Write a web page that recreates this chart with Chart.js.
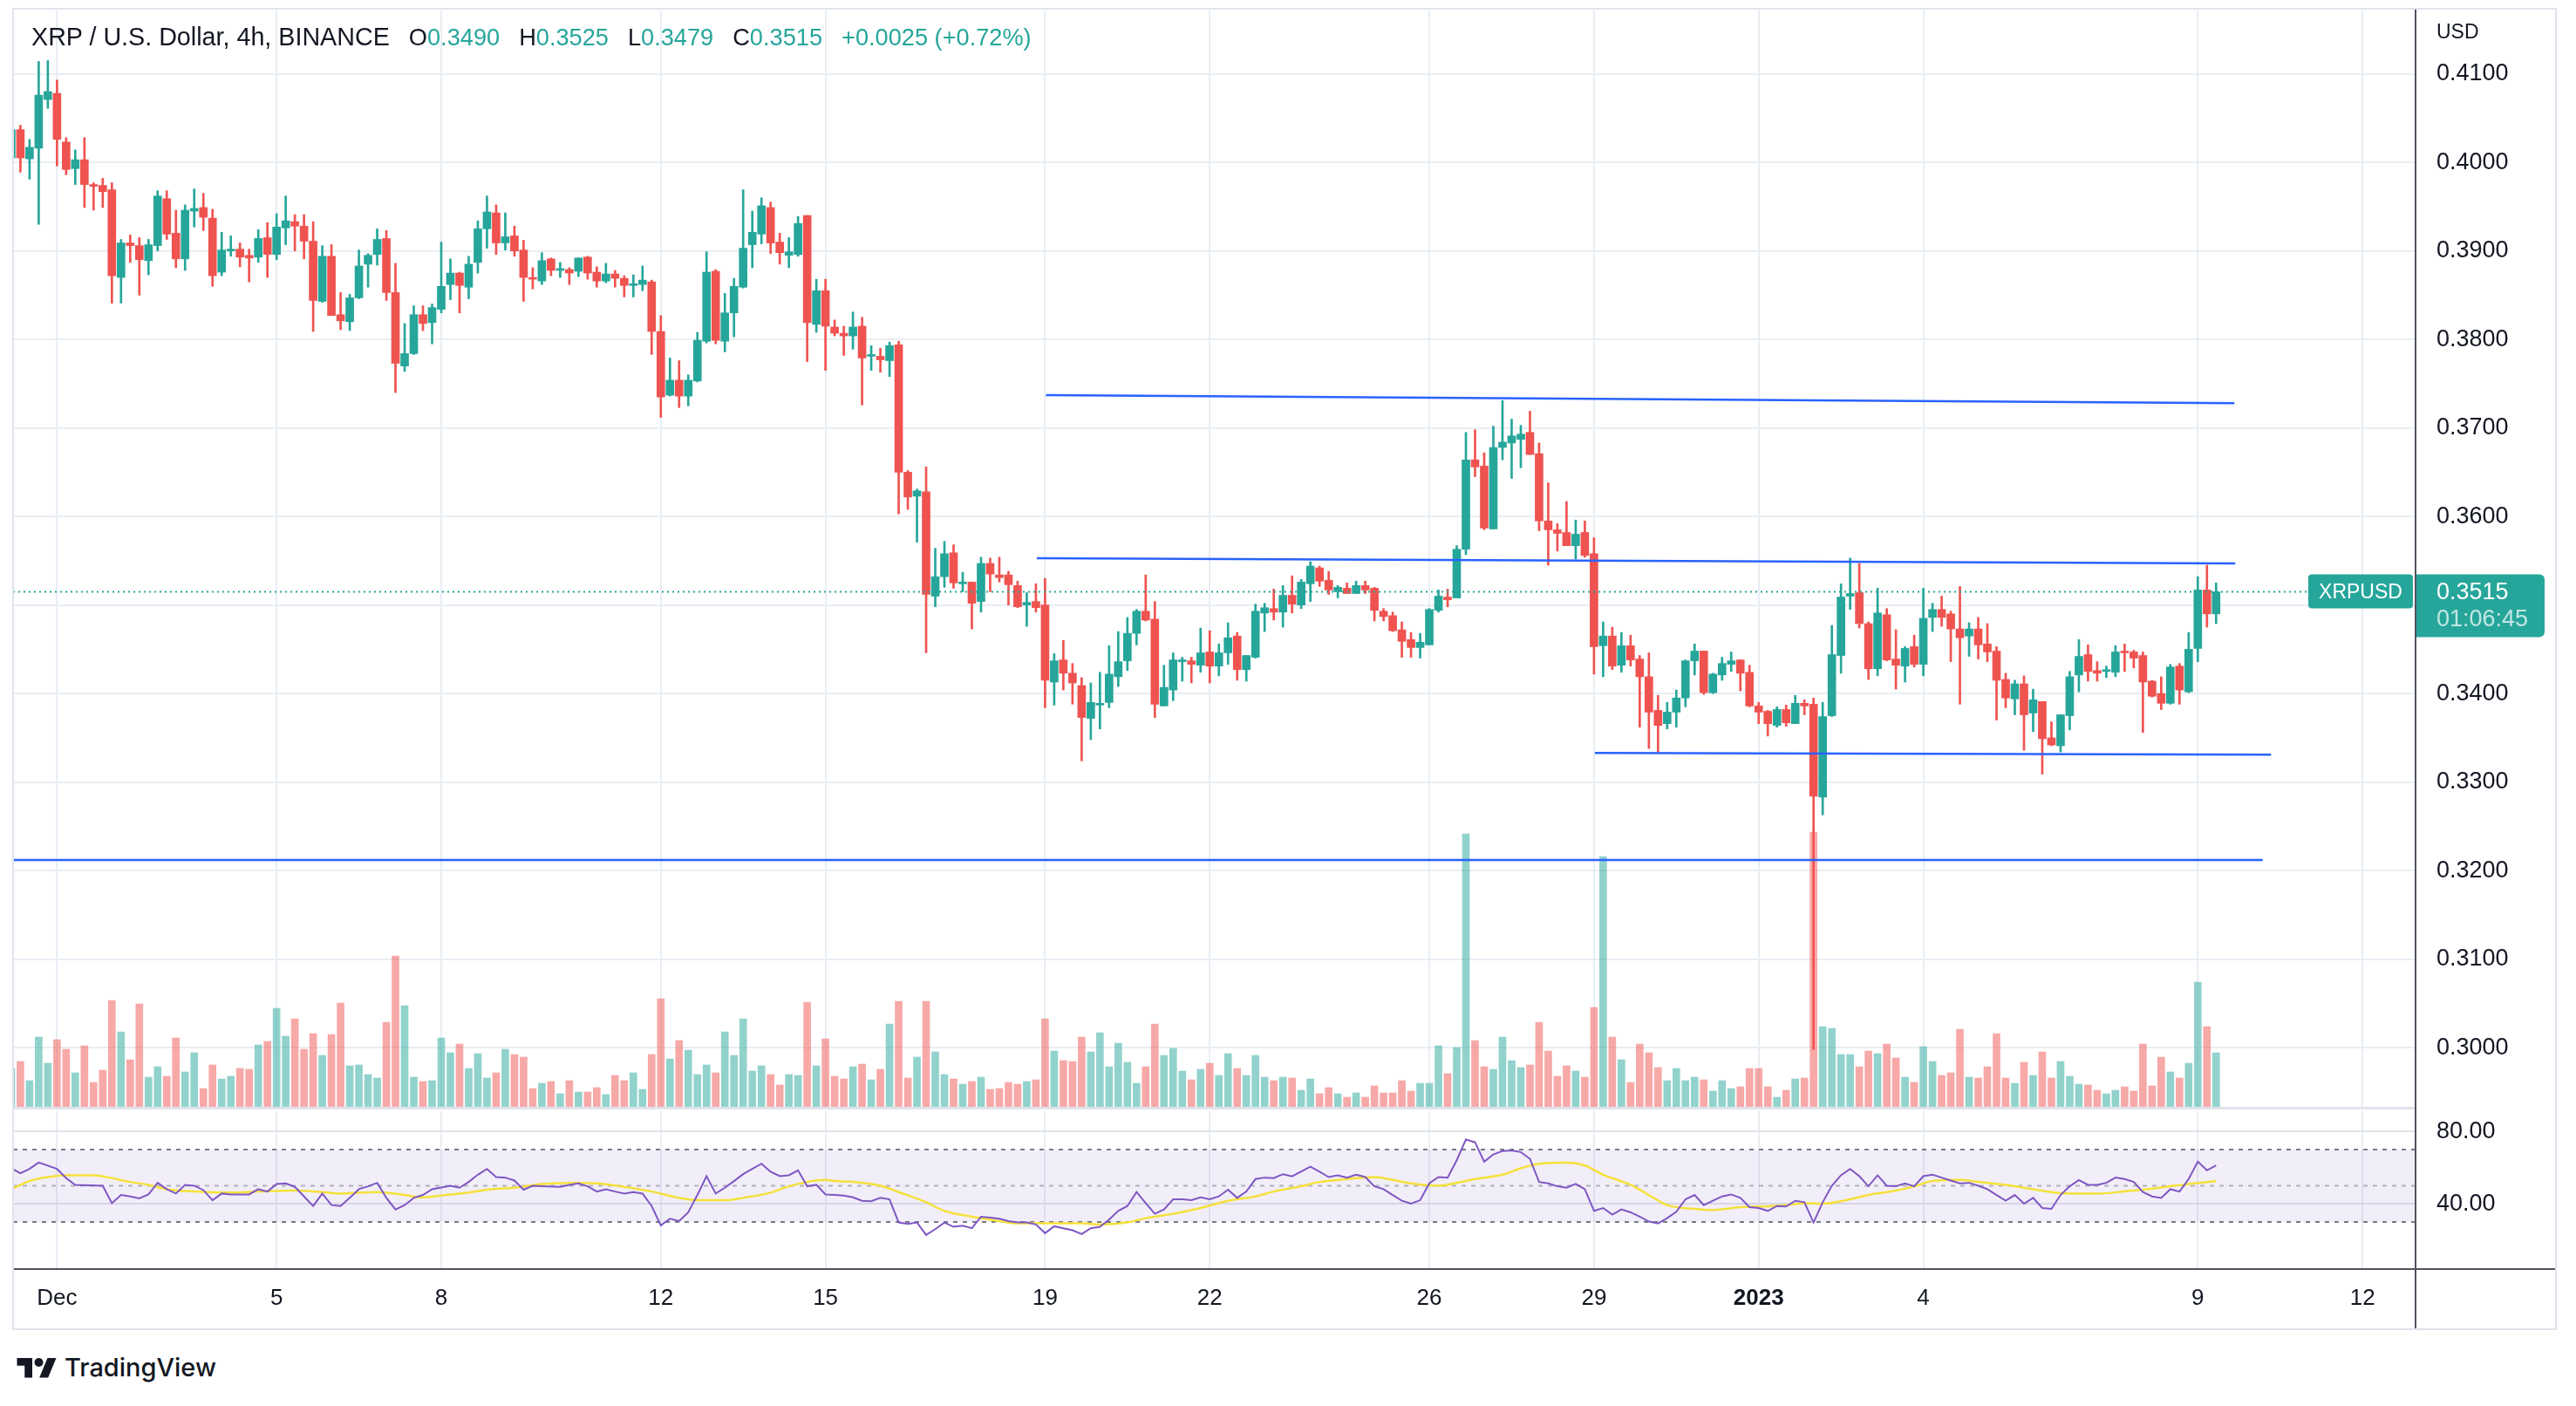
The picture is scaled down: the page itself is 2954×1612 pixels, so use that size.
<!DOCTYPE html>
<html lang="es">
<head>
<meta charset="utf-8">
<title>XRP / U.S. Dollar, 4h, BINANCE</title>
<script src="https://cdn.jsdelivr.net/npm/chart.js@4.4.1/dist/chart.umd.min.js"></script>
<style>
	html, body { margin: 0; padding: 0; background: #ffffff; }
	#lienzo { position: relative; width: 2954px; height: 1612px; overflow: hidden; font-family: "Liberation Sans", Arial, sans-serif; color: #131722; }
	#graficoPrecio { position: absolute; left: 0; top: 0; }
	#graficoRsi { position: absolute; left: 0; top: 1270px; }
	.marco { position: absolute; left: 14px; top: 9px; width: 2914px; height: 1512px; border: 2px solid #e0e3eb; pointer-events: none; }
	.ejeV { position: absolute; left: 2769px; top: 10px; width: 2px; height: 1513px; background: #50535e; }
	.ejeH { position: absolute; left: 15px; top: 1454px; width: 2915px; height: 2px; background: #50535e; }
	.sep { position: absolute; left: 15px; top: 1269px; width: 2754px; height: 3px; background: #e0e3eb; }
	#leyenda { position: absolute; left: 36px; top: 28px; font-size: 27.2px; line-height: 28px; white-space: nowrap; color: #131722; }
	#leyenda .t { font-size: 28.7px; }
	#leyenda .v { color: #26a69a; }
	#leyenda .k { margin-left: 22px; }
	.usd { position: absolute; left: 2794px; top: 24px; font-size: 23px; line-height: 24px; color: #131722; }
	.logo { position: absolute; left: 19px; top: 1550px; height: 34px; display: flex; align-items: center; gap: 9px; font-family: Inter, "Liberation Sans", sans-serif; font-size: 29px; font-weight: 500; color: #131722; }
</style>
</head>
<body>
<div id="lienzo">
	<canvas id="graficoPrecio" width="2954" height="1272"></canvas>
	<canvas id="graficoRsi" width="2954" height="254"></canvas>
	<div class="sep"></div>
	<div class="ejeH"></div>
	<div class="ejeV"></div>
	<div class="marco"></div>
	<div id="leyenda"></div>
	<div class="usd">USD</div>
	<div class="logo">
		<svg width="46" height="30" viewBox="0 0 36 24"><path fill="#131722" d="M14 22H7V11H0V4h14v18zM28.5 22h-8l7.5-18h8L28.5 22z"/><circle fill="#131722" cx="20" cy="8" r="4"/></svg>
		<span>TradingView</span>
	</div>
</div>
<script>
// Velas de 4h: el índice 0 es el 1 de diciembre 00:00, cada unidad es una vela
const firstIdx = -5;

const opens = [
	0.4005, 0.4037, 0.4004, 0.4016, 0.4071, 0.4078, 0.4023, 0.3993, 0.4003, 0.3974,
	0.3974, 0.3969, 0.3870, 0.3909, 0.3906, 0.3889, 0.3906, 0.3959, 0.3920, 0.3891,
	0.3945, 0.3949, 0.3937, 0.3876, 0.3900, 0.3902, 0.3895, 0.3893, 0.3915, 0.3896,
	0.3926, 0.3933, 0.3928, 0.3911, 0.3843, 0.3894, 0.3828, 0.3820, 0.3847, 0.3885,
	0.3896, 0.3914, 0.3853, 0.3770, 0.3784, 0.3828, 0.3819, 0.3834, 0.3862, 0.3875,
	0.3859, 0.3887, 0.3925, 0.3943, 0.3909, 0.3917, 0.3901, 0.3870, 0.3866, 0.3891,
	0.3878, 0.3879, 0.3877, 0.3893, 0.3876, 0.3866, 0.3874, 0.3869, 0.3861, 0.3862,
	0.3865, 0.3809, 0.3737, 0.3754, 0.3736, 0.3753, 0.3798, 0.3877, 0.3798, 0.3830,
	0.3859, 0.3907, 0.3919, 0.3949, 0.3910, 0.3895, 0.3896, 0.3940, 0.3817, 0.3855,
	0.3814, 0.3807, 0.3804, 0.3815, 0.3781, 0.3781, 0.3776, 0.3794, 0.3650, 0.3623,
	0.3628, 0.3510, 0.3532, 0.3559, 0.3524, 0.3526, 0.3504, 0.3547, 0.3534, 0.3534,
	0.3522, 0.3500, 0.3504, 0.3500, 0.3413, 0.3438, 0.3423, 0.3409, 0.3372, 0.3387,
	0.3390, 0.3419, 0.3437, 0.3468, 0.3493, 0.3484, 0.3386, 0.3404, 0.3436, 0.3437,
	0.3432, 0.3447, 0.3431, 0.3446, 0.3465, 0.3427, 0.3441, 0.3491, 0.3496, 0.3492,
	0.3511, 0.3500, 0.3524, 0.3542, 0.3528, 0.3515, 0.3519, 0.3513, 0.3522, 0.3519,
	0.3493, 0.3488, 0.3472, 0.3461, 0.3452, 0.3455, 0.3494, 0.3509, 0.3508, 0.3563,
	0.3664, 0.3657, 0.3586, 0.3678, 0.3683, 0.3687, 0.3695, 0.3671, 0.3595, 0.3585,
	0.3582, 0.3567, 0.3582, 0.3558, 0.3454, 0.3465, 0.3432, 0.3454, 0.3439, 0.3419,
	0.3381, 0.3366, 0.3379, 0.3395, 0.3437, 0.3448, 0.3401, 0.3421, 0.3433, 0.3438,
	0.3424, 0.3386, 0.3380, 0.3364, 0.3382, 0.3366, 0.3389, 0.3388, 0.3283, 0.3375,
	0.3443, 0.3510, 0.3514, 0.3479, 0.3428, 0.3489, 0.3439, 0.3431, 0.3453, 0.3433,
	0.3486, 0.3495, 0.3490, 0.3473, 0.3465, 0.3473, 0.3456, 0.3448, 0.3416, 0.3394,
	0.3411, 0.3378, 0.3391, 0.3350, 0.3341, 0.3375, 0.3421, 0.3444, 0.3426, 0.3425,
	0.3424, 0.3447, 0.3447, 0.3443, 0.3414, 0.3400, 0.3389, 0.3431, 0.3402, 0.3451,
	0.3517, 0.3490
];
const highs = [
	0.4045, 0.4042, 0.4026, 0.4114, 0.4115, 0.4093, 0.4028, 0.4014, 0.4028, 0.3977,
	0.3982, 0.3977, 0.3913, 0.3918, 0.3915, 0.3913, 0.3968, 0.3968, 0.3946, 0.3952,
	0.3970, 0.3965, 0.3947, 0.3921, 0.3917, 0.3909, 0.3902, 0.3924, 0.3932, 0.3942,
	0.3962, 0.3941, 0.3941, 0.3933, 0.3906, 0.3907, 0.3853, 0.3851, 0.3901, 0.3897,
	0.3925, 0.3923, 0.3886, 0.3818, 0.3838, 0.3838, 0.3840, 0.3910, 0.3891, 0.3876,
	0.3894, 0.3934, 0.3962, 0.3952, 0.3943, 0.3928, 0.3912, 0.3881, 0.3898, 0.3892,
	0.3887, 0.3881, 0.3892, 0.3894, 0.3882, 0.3886, 0.3878, 0.3872, 0.3873, 0.3883,
	0.3867, 0.3827, 0.3779, 0.3776, 0.3760, 0.3808, 0.3899, 0.3879, 0.3852, 0.3869,
	0.3969, 0.3945, 0.3960, 0.3955, 0.3920, 0.3915, 0.3939, 0.3940, 0.3868, 0.3868,
	0.3822, 0.3815, 0.3831, 0.3825, 0.3793, 0.3790, 0.3797, 0.3798, 0.3652, 0.3631,
	0.3656, 0.3564, 0.3572, 0.3568, 0.3537, 0.3526, 0.3554, 0.3553, 0.3554, 0.3538,
	0.3527, 0.3514, 0.3524, 0.3530, 0.3445, 0.3460, 0.3434, 0.3418, 0.3412, 0.3424,
	0.3454, 0.3470, 0.3486, 0.3495, 0.3534, 0.3504, 0.3432, 0.3446, 0.3441, 0.3441,
	0.3474, 0.3471, 0.3456, 0.3480, 0.3469, 0.3443, 0.3501, 0.3502, 0.3518, 0.3522,
	0.3533, 0.3529, 0.3549, 0.3544, 0.3538, 0.3522, 0.3525, 0.3527, 0.3527, 0.3520,
	0.3496, 0.3492, 0.3481, 0.3469, 0.3468, 0.3496, 0.3517, 0.3518, 0.3567, 0.3695,
	0.3698, 0.3672, 0.3702, 0.3731, 0.3710, 0.3703, 0.3719, 0.3683, 0.3638, 0.3592,
	0.3617, 0.3596, 0.3595, 0.3576, 0.3481, 0.3475, 0.3469, 0.3466, 0.3443, 0.3446,
	0.3398, 0.3390, 0.3404, 0.3438, 0.3456, 0.3448, 0.3423, 0.3441, 0.3447, 0.3438,
	0.3432, 0.3390, 0.3381, 0.3385, 0.3387, 0.3398, 0.3393, 0.3395, 0.3390, 0.3477,
	0.3524, 0.3553, 0.3547, 0.3481, 0.3519, 0.3496, 0.3472, 0.3453, 0.3466, 0.3519,
	0.3502, 0.3510, 0.3493, 0.3521, 0.3480, 0.3486, 0.3479, 0.3453, 0.3423, 0.3415,
	0.3420, 0.3405, 0.3391, 0.3368, 0.3376, 0.3425, 0.3461, 0.3455, 0.3436, 0.3431,
	0.3454, 0.3456, 0.3449, 0.3447, 0.3415, 0.3419, 0.3433, 0.3434, 0.3469, 0.3532,
	0.3545, 0.3525
];
const lows = [
	0.3998, 0.3989, 0.3981, 0.3930, 0.4061, 0.3996, 0.3986, 0.3975, 0.3949, 0.3946,
	0.3949, 0.3841, 0.3841, 0.3887, 0.3850, 0.3873, 0.3900, 0.3913, 0.3881, 0.3878,
	0.3927, 0.3923, 0.3860, 0.3872, 0.3894, 0.3882, 0.3865, 0.3887, 0.3870, 0.3890,
	0.3907, 0.3900, 0.3891, 0.3809, 0.3842, 0.3827, 0.3811, 0.3810, 0.3846, 0.3859,
	0.3884, 0.3844, 0.3740, 0.3764, 0.3783, 0.3810, 0.3795, 0.3830, 0.3845, 0.3830,
	0.3846, 0.3875, 0.3903, 0.3896, 0.3901, 0.3894, 0.3843, 0.3857, 0.3862, 0.3872,
	0.3870, 0.3862, 0.3871, 0.3868, 0.3859, 0.3864, 0.3859, 0.3848, 0.3848, 0.3855,
	0.3783, 0.3712, 0.3736, 0.3723, 0.3725, 0.3752, 0.3796, 0.3795, 0.3786, 0.3803,
	0.3858, 0.3881, 0.3908, 0.3897, 0.3885, 0.3881, 0.3894, 0.3775, 0.3808, 0.3765,
	0.3804, 0.3782, 0.3789, 0.3726, 0.3765, 0.3763, 0.3758, 0.3603, 0.3608, 0.3571,
	0.3446, 0.3498, 0.3520, 0.3519, 0.3515, 0.3473, 0.3492, 0.3515, 0.3526, 0.3500,
	0.3497, 0.3476, 0.3492, 0.3384, 0.3387, 0.3404, 0.3388, 0.3324, 0.3348, 0.3360,
	0.3384, 0.3408, 0.3426, 0.3455, 0.3482, 0.3373, 0.3386, 0.3392, 0.3414, 0.3412,
	0.3424, 0.3412, 0.3420, 0.3433, 0.3415, 0.3414, 0.3440, 0.3470, 0.3483, 0.3475,
	0.3491, 0.3496, 0.3504, 0.3521, 0.3512, 0.3508, 0.3513, 0.3513, 0.3513, 0.3482,
	0.3482, 0.3470, 0.3441, 0.3441, 0.3440, 0.3455, 0.3492, 0.3498, 0.3508, 0.3557,
	0.3645, 0.3585, 0.3586, 0.3664, 0.3643, 0.3655, 0.3670, 0.3584, 0.3545, 0.3561,
	0.3567, 0.3552, 0.3554, 0.3422, 0.3419, 0.3427, 0.3424, 0.3431, 0.3362, 0.3338,
	0.3334, 0.3360, 0.3362, 0.3385, 0.3421, 0.3399, 0.3400, 0.3415, 0.3425, 0.3403,
	0.3385, 0.3366, 0.3352, 0.3362, 0.3363, 0.3366, 0.3376, 0.2998, 0.3263, 0.3374,
	0.3423, 0.3495, 0.3474, 0.3416, 0.3420, 0.3437, 0.3405, 0.3413, 0.3430, 0.3420,
	0.3470, 0.3476, 0.3436, 0.3388, 0.3442, 0.3439, 0.3436, 0.3370, 0.3384, 0.3376,
	0.3336, 0.3357, 0.3309, 0.3341, 0.3334, 0.3359, 0.3402, 0.3414, 0.3414, 0.3418,
	0.3419, 0.3425, 0.3429, 0.3356, 0.3396, 0.3382, 0.3388, 0.3388, 0.3401, 0.3436,
	0.3475, 0.3479
];
const closes = [
	0.4037, 0.4005, 0.4017, 0.4076, 0.4080, 0.4026, 0.3992, 0.4003, 0.3975, 0.3973,
	0.3967, 0.3872, 0.3909, 0.3906, 0.3890, 0.3907, 0.3962, 0.3919, 0.3891, 0.3946,
	0.3948, 0.3938, 0.3872, 0.3901, 0.3902, 0.3893, 0.3892, 0.3914, 0.3896, 0.3927,
	0.3934, 0.3928, 0.3911, 0.3844, 0.3894, 0.3827, 0.3821, 0.3847, 0.3883, 0.3895,
	0.3913, 0.3853, 0.3773, 0.3784, 0.3828, 0.3818, 0.3836, 0.3860, 0.3875, 0.3861,
	0.3885, 0.3925, 0.3944, 0.3909, 0.3916, 0.3900, 0.3870, 0.3868, 0.3889, 0.3878,
	0.3880, 0.3875, 0.3892, 0.3875, 0.3866, 0.3874, 0.3869, 0.3861, 0.3863, 0.3867,
	0.3809, 0.3735, 0.3754, 0.3736, 0.3754, 0.3799, 0.3876, 0.3799, 0.3830, 0.3860,
	0.3903, 0.3921, 0.3951, 0.3909, 0.3898, 0.3899, 0.3931, 0.3819, 0.3855, 0.3815,
	0.3807, 0.3804, 0.3814, 0.3779, 0.3783, 0.3777, 0.3793, 0.3650, 0.3622, 0.3629,
	0.3512, 0.3532, 0.3558, 0.3525, 0.3526, 0.3502, 0.3547, 0.3535, 0.3531, 0.3523,
	0.3498, 0.3503, 0.3497, 0.3415, 0.3437, 0.3423, 0.3412, 0.3373, 0.3390, 0.3389,
	0.3422, 0.3436, 0.3468, 0.3493, 0.3483, 0.3388, 0.3407, 0.3438, 0.3438, 0.3433,
	0.3446, 0.3431, 0.3446, 0.3463, 0.3427, 0.3443, 0.3493, 0.3497, 0.3492, 0.3511,
	0.3501, 0.3526, 0.3544, 0.3527, 0.3517, 0.3520, 0.3513, 0.3522, 0.3517, 0.3494,
	0.3487, 0.3471, 0.3459, 0.3452, 0.3458, 0.3495, 0.3510, 0.3506, 0.3563, 0.3664,
	0.3656, 0.3587, 0.3678, 0.3684, 0.3691, 0.3693, 0.3670, 0.3595, 0.3585, 0.3581,
	0.3567, 0.3580, 0.3556, 0.3453, 0.3465, 0.3431, 0.3454, 0.3438, 0.3419, 0.3379,
	0.3364, 0.3379, 0.3395, 0.3437, 0.3448, 0.3401, 0.3422, 0.3434, 0.3437, 0.3423,
	0.3386, 0.3379, 0.3366, 0.3382, 0.3367, 0.3389, 0.3386, 0.3284, 0.3374, 0.3444,
	0.3509, 0.3513, 0.3479, 0.3428, 0.3491, 0.3438, 0.3432, 0.3451, 0.3433, 0.3485,
	0.3495, 0.3486, 0.3473, 0.3463, 0.3473, 0.3455, 0.3447, 0.3415, 0.3395, 0.3411,
	0.3376, 0.3393, 0.3349, 0.3342, 0.3376, 0.3419, 0.3442, 0.3425, 0.3423, 0.3427,
	0.3447, 0.3446, 0.3440, 0.3413, 0.3397, 0.3389, 0.3430, 0.3404, 0.3450, 0.3517,
	0.3490, 0.3515
];
// Volumen relativo de cada vela (millones)
const volumes = [
	45, 53, 31, 81, 51, 78, 67, 40, 71, 29,
	43, 123, 87, 55, 119, 35, 47, 36, 80, 41,
	63, 22, 49, 33, 36, 45, 44, 72, 76, 114,
	82, 102, 67, 85, 60, 84, 120, 48, 49, 38,
	34, 98, 174, 117, 35, 30, 31, 80, 63, 73,
	45, 62, 34, 40, 67, 61, 58, 22, 28, 30,
	16, 31, 18, 18, 23, 15, 37, 31, 40, 21,
	61, 125, 56, 77, 66, 38, 49, 40, 87, 60,
	102, 42, 48, 38, 26, 38, 37, 121, 48, 79,
	36, 33, 47, 50, 32, 44, 96, 122, 34, 58,
	122, 64, 38, 33, 27, 30, 35, 21, 22, 29,
	27, 30, 32, 102, 65, 54, 53, 81, 64, 86,
	47, 74, 52, 28, 47, 96, 60, 68, 42, 32,
	44, 51, 37, 62, 45, 37, 60, 35, 31, 35,
	34, 20, 33, 16, 23, 16, 12, 17, 12, 25,
	17, 17, 31, 19, 28, 28, 71, 39, 69, 314,
	77, 47, 44, 81, 54, 46, 49, 98, 65, 36,
	48, 42, 35, 115, 288, 81, 55, 29, 73, 63,
	46, 31, 45, 31, 35, 32, 19, 31, 22, 24,
	45, 45, 24, 12, 20, 33, 34, 316, 93, 91,
	61, 61, 47, 65, 62, 73, 57, 35, 29, 70,
	53, 37, 40, 90, 35, 34, 47, 85, 34, 28,
	52, 37, 64, 34, 53, 36, 27, 26, 20, 16,
	20, 24, 19, 73, 25, 58, 41, 34, 51, 144,
	93, 63
];

const rsiIdx = [
	-5, -4, -3, -2, 0, 1, 2, 5, 6, 7, 8, 9, 10, 11, 12, 13, 14, 15, 16, 17, 18, 19, 21, 22, 23, 24, 25, 26, 28, 29,
	30, 31, 32, 33, 34, 35, 36, 37, 38, 39, 40, 41, 43, 44, 45, 46, 47, 48, 49, 50, 51, 52, 53, 55, 56, 57, 58, 59, 60, 61,
	62, 63, 64, 65, 66, 67, 68, 69, 70, 71, 72, 73, 74, 75, 76, 77, 78, 79, 80, 81, 82, 83, 84, 85, 86, 87, 88, 89, 90, 91,
	92, 93, 94, 95, 96, 97, 98, 99, 100, 101, 102, 103, 104, 105, 106, 107, 108, 109, 110, 111, 112, 113, 114, 115, 116, 117, 118, 119, 120, 121,
	122, 123, 124, 125, 126, 127, 128, 129, 130, 131, 132, 133, 134, 135, 137, 138, 139, 140, 141, 142, 143, 144, 145, 146, 147, 148, 149, 150, 151, 152,
	153, 154, 155, 156, 157, 158, 159, 160, 161, 162, 163, 164, 165, 166, 167, 168, 169, 170, 171, 172, 173, 174, 175, 176, 177, 178, 179, 180, 181, 182,
	183, 184, 185, 186, 187, 188, 189, 190, 191, 192, 193, 194, 195, 196, 197, 198, 199, 200, 201, 202, 203, 204, 205, 206, 207, 208, 209, 210, 211, 212,
	213, 214, 215, 216, 217, 218, 219, 220, 221, 222, 223, 224, 225, 226, 227, 228, 229, 230, 231, 232, 233, 234, 235, 236
];
const rsiVal = [
	59.6, 56.9, 59.3, 62.8, 59.3, 54.2, 50.5, 50.0, 40.4, 44.9, 44.1, 43.0, 45.2, 51.6, 48.1, 45.7, 50.5, 50.0, 47.6, 42.0, 45.7, 45.2, 45.2, 48.1, 46.8, 51.0, 51.3, 49.4, 38.8, 45.7,
	39.3, 38.8, 43.3, 48.1, 49.7, 51.6, 43.3, 36.9, 39.3, 43.3, 44.9, 48.1, 50.0, 48.9, 52.1, 56.1, 59.3, 54.8, 54.5, 52.9, 47.8, 50.0, 49.7, 49.4, 50.5, 51.3, 49.7, 46.8, 48.1, 46.8,
	45.7, 46.5, 45.7, 38.8, 28.1, 31.8, 30.5, 35.3, 44.9, 55.3, 45.7, 48.9, 52.6, 56.4, 59.3, 62.2, 57.7, 55.3, 55.8, 58.5, 49.7, 50.5, 45.2, 44.9, 44.6, 43.6, 41.7, 41.4, 43.3, 42.5,
	29.7, 28.9, 29.7, 22.8, 26.0, 29.7, 27.3, 27.9, 26.5, 32.9, 32.4, 31.8, 30.5, 29.7, 29.7, 28.6, 23.8, 27.6, 26.5, 25.4, 23.3, 26.5, 27.3, 31.3, 36.1, 38.8, 46.5, 40.4, 34.5, 36.9,
	42.5, 42.5, 42.0, 43.6, 42.5, 44.1, 47.8, 43.3, 46.8, 53.7, 54.5, 54.2, 56.4, 55.2, 60.5, 57.7, 54.8, 55.8, 54.5, 56.1, 54.8, 49.7, 48.1, 44.9, 41.7, 40.1, 42.0, 51.3, 54.8, 54.5,
	64.1, 75.6, 74.0, 63.3, 67.3, 69.2, 69.5, 68.6, 64.9, 52.1, 51.3, 49.7, 48.9, 51.0, 48.1, 36.1, 37.7, 34.0, 36.9, 35.3, 32.9, 30.2, 29.2, 32.1, 35.6, 42.5, 44.9, 39.3, 41.7, 44.1,
	45.2, 43.3, 38.2, 37.7, 36.1, 38.8, 38.5, 41.7, 40.9, 29.7, 40.9, 50.0, 55.8, 59.3, 55.3, 49.7, 55.8, 50.0, 49.7, 51.3, 49.7, 55.3, 56.1, 54.5, 52.9, 51.3, 51.6, 50.0, 48.1, 44.9,
	41.7, 44.9, 40.1, 43.3, 37.7, 37.2, 44.9, 49.7, 53.2, 50.5, 50.5, 51.6, 54.5, 53.7, 52.1, 46.5, 44.1, 43.3, 48.1, 46.8, 53.7, 63.3, 58.5, 61.2
];
// Media del RSI (línea amarilla)
const maIdx = [
	-5, -3, -1, 1, 4, 6, 8, 10, 12, 15, 19, 22, 26, 29, 31, 35, 38, 40, 42, 45, 47, 50, 53, 57, 59, 62, 65, 68, 70, 73,
	75, 78, 80, 82, 84, 85, 87, 90, 92, 95, 97, 100, 103, 105, 109, 112, 114, 117, 119, 122, 125, 128, 131, 133, 136, 138, 141, 144, 146, 148,
	151, 153, 155, 158, 160, 162, 165, 167, 169, 172, 174, 176, 179, 181, 184, 186, 189, 191, 193, 196, 198, 201, 203, 205, 208, 210, 213, 215, 218, 220,
	223, 226, 228, 231, 233, 236
];
const maVal = [
	48.1, 52.6, 54.8, 55.8, 55.8, 54.2, 52.1, 50.5, 48.1, 46.8, 46.2, 46.8, 47.3, 46.5, 45.7, 46.5, 44.9, 43.6, 44.6, 46.2, 47.8, 48.9, 51.0, 51.6, 51.3, 49.4, 46.8, 43.3, 42.0, 42.0,
	43.3, 46.2, 49.7, 52.1, 53.2, 52.6, 52.1, 50.0, 46.5, 40.9, 36.1, 32.9, 30.5, 29.2, 29.2, 29.2, 28.6, 29.7, 32.1, 34.5, 37.7, 41.7, 44.1, 46.8, 49.7, 52.1, 53.7, 54.8, 53.2, 51.3,
	50.0, 51.6, 53.7, 56.1, 59.6, 62.2, 62.8, 61.2, 56.1, 50.5, 44.9, 39.3, 37.2, 36.6, 38.2, 38.5, 39.3, 40.4, 40.1, 42.5, 44.9, 47.3, 49.7, 52.6, 53.2, 52.1, 50.5, 48.9, 46.5, 45.7,
	45.7, 46.8, 47.8, 49.7, 51.0, 52.6
];

// Líneas dibujadas a mano (soportes y resistencias)
const trendStartIdx = [108.1, 107.1, 168.1, -4.8];
const trendEndIdx = [238.0, 238.1, 242.0, 241.1];
const trendStartPrice = [0.3737, 0.3553, 0.3333, 0.3212];
const trendEndPrice = [0.3728, 0.3547, 0.3331, 0.3212];

// Eje de tiempo
const tickIdx = [0, 24, 42, 66, 84, 108, 126, 150, 168, 186, 204, 234, 252];
const tickLabels = ['Dec', '5', '8', '12', '15', '19', '22', '26', '29', '2023', '4', '9', '12'];
const priceTicks = [0.30, 0.31, 0.32, 0.33, 0.34, 0.35, 0.36, 0.37, 0.38, 0.39, 0.40, 0.41];
const rsiTicks = [40, 80];
const rsiLevels = [70, 50, 30];

const symbolName = 'XRP / U.S. Dollar, 4h, BINANCE';
const symbolTag = 'XRPUSD';
const countdown = '01:06:45';

document.addEventListener('DOMContentLoaded', function () {

	const upColor = '#26a69a';
	const downColor = '#ef5350';
	const gridColor = '#e8eef4';
	const textColor = '#131722';
	const fontFamily = '"Liberation Sans", Arial, sans-serif';
	Chart.defaults.font.family = fontFamily;
	Chart.defaults.color = textColor;

	const xMin = -4.8, xMax = 257.8;

	const idx = opens.map((_, i) => firstIdx + i);
	const isUp = opens.map((o, i) => closes[i] >= o);
	const candleColors = isUp.map(u => u ? upColor : downColor);
	const volColors = isUp.map(u => u ? 'rgba(38,166,154,0.5)' : 'rgba(239,83,80,0.5)');

	const last = closes.length - 1;
	const lastPrice = closes[last];

	// Leyenda superior con OHLC de la última vela
	const change = closes[last] - closes[last - 1];
	const pct = change / closes[last - 1] * 100;
	const sign = change >= 0 ? '+' : '-';
	document.getElementById('leyenda').innerHTML =
		'<span class="t">' + symbolName + '</span>' +
		'<span class="k">O</span><span class="v">' + opens[last].toFixed(4) + '</span>' +
		'<span class="k">H</span><span class="v">' + highs[last].toFixed(4) + '</span>' +
		'<span class="k">L</span><span class="v">' + lows[last].toFixed(4) + '</span>' +
		'<span class="k">C</span><span class="v">' + closes[last].toFixed(4) + '</span>' +
		'<span class="k v">' + sign + Math.abs(change).toFixed(4) + ' (' + sign + Math.abs(pct).toFixed(2) + '%)</span>';

	function caja(ctx, x, y, w, h, r) {
		ctx.beginPath();
		if (ctx.roundRect) ctx.roundRect(x, y, w, h, r); else ctx.rect(x, y, w, h);
		ctx.fill();
	}

	// Etiquetas del último precio sobre el eje derecho
	const etiquetaPrecio = {
		id: 'etiquetaPrecio',
		afterDraw(chart) {
			const { ctx, chartArea, scales } = chart;
			const y = scales.y.getPixelForValue(lastPrice);
			ctx.save();
			ctx.fillStyle = upColor;
			caja(ctx, chartArea.right - 123, y - 20, 120, 39, 4);
			caja(ctx, chartArea.right, y - 20, 148, 72, [0, 6, 6, 0]);
			ctx.fillStyle = '#ffffff';
			ctx.textBaseline = 'middle';
			ctx.textAlign = 'center';
			ctx.font = '23px ' + fontFamily;
			ctx.fillText(symbolTag, chartArea.right - 63, y + 1);
			ctx.textAlign = 'left';
			ctx.font = '27px ' + fontFamily;
			ctx.fillText(lastPrice.toFixed(4), chartArea.right + 24, y + 1);
			ctx.fillStyle = 'rgba(255,255,255,0.72)';
			ctx.fillText(countdown, chartArea.right + 24, y + 32);
			ctx.restore();
		}
	};

	// Banda 30-70 y niveles punteados del RSI
	const bandaRsi = {
		id: 'bandaRsi',
		beforeDatasetsDraw(chart) {
			const { ctx, chartArea: a, scales } = chart;
			const yTop = scales.y.getPixelForValue(rsiLevels[0]);
			const yBot = scales.y.getPixelForValue(rsiLevels[2]);
			ctx.save();
			ctx.fillStyle = 'rgba(126,87,194,0.1)';
			ctx.fillRect(a.left, yTop, a.right - a.left, yBot - yTop);
			ctx.lineWidth = 2;
			ctx.setLineDash([5, 6]);
			rsiLevels.forEach((lv, k) => {
				const y = scales.y.getPixelForValue(lv);
				ctx.strokeStyle = k === 1 ? 'rgba(120,123,134,0.55)' : '#787b86';
				ctx.beginPath();
				ctx.moveTo(a.left, y);
				ctx.lineTo(a.right, y);
				ctx.stroke();
			});
			ctx.restore();
		}
	};

	const sinRelleno = s => { s.paddingTop = 0; s.paddingBottom = 0; s.paddingLeft = 0; s.paddingRight = 0; };

	// ============================================================
	// 1. Panel principal: velas, volumen y líneas
	// ============================================================
	const trendSets = trendStartIdx.map((x0, k) => ({
		type: 'line',
		label: 'Línea ' + (k + 1),
		data: [{ x: x0, y: trendStartPrice[k] }, { x: trendEndIdx[k], y: trendEndPrice[k] }],
		borderColor: '#2962ff',
		borderWidth: 2.5,
		pointRadius: 0,
		order: 0
	}));

	new Chart(document.getElementById('graficoPrecio'), {
		type: 'bar',
		data: {
			datasets: [
				{
					label: 'Volumen',
					yAxisID: 'yVol',
					data: idx.map((x, i) => ({ x: x, y: volumes[i] })),
					backgroundColor: volColors,
					barThickness: 8,
					grouped: false,
					order: 4
				},
				{
					label: 'Mechas',
					data: idx.map((x, i) => ({ x: x, y: [lows[i], highs[i]] })),
					backgroundColor: candleColors,
					barThickness: 2,
					grouped: false,
					order: 3
				},
				{
					label: 'Cuerpos',
					data: idx.map((x, i) => ({ x: x, y: [opens[i], closes[i]] })),
					backgroundColor: candleColors,
					barThickness: 9,
					minBarLength: 2,
					grouped: false,
					order: 2
				},
				...trendSets,
				{
					type: 'line',
					label: 'Último precio',
					data: [{ x: xMin, y: lastPrice }, { x: xMax, y: lastPrice }],
					borderColor: upColor,
					borderWidth: 2,
					borderDash: [2, 4],
					pointRadius: 0,
					order: 1
				}
			]
		},
		options: {
			responsive: false,
			animation: false,
			devicePixelRatio: 1,
			events: [],
			layout: { padding: { left: 15, right: 24, top: 12, bottom: 2 } },
			plugins: { legend: { display: false }, tooltip: { enabled: false } },
			scales: {
				x: {
					type: 'linear',
					min: xMin,
					max: xMax,
					offset: false,
					afterBuildTicks: s => { s.ticks = tickIdx.map(v => ({ value: v })); },
					ticks: { display: false },
					grid: { color: gridColor, lineWidth: 2, drawTicks: false, offset: false },
					border: { display: false },
					afterFit: s => { s.height = 0; sinRelleno(s); }
				},
				y: {
					position: 'right',
					min: 0.29322,
					max: 0.41716,
					afterBuildTicks: s => { s.ticks = priceTicks.map(v => ({ value: v })); },
					ticks: { callback: v => v.toFixed(4), font: { size: 27 }, color: textColor, padding: 24 },
					grid: { color: gridColor, lineWidth: 2, drawTicks: false },
					border: { display: false },
					afterFit: s => { s.width = 160; sinRelleno(s); }
				},
				yVol: { display: false, min: 0, max: 1258 }
			}
		},
		plugins: [etiquetaPrecio]
	});

	// ============================================================
	// 2. Panel RSI con su media
	// ============================================================
	new Chart(document.getElementById('graficoRsi'), {
		type: 'line',
		data: {
			datasets: [
				{
					label: 'RSI',
					data: rsiIdx.map((x, i) => ({ x: x, y: rsiVal[i] })),
					borderColor: '#7e57c2',
					borderWidth: 2,
					pointRadius: 0,
					order: 1
				},
				{
					label: 'Media RSI',
					data: maIdx.map((x, i) => ({ x: x, y: maVal[i] })),
					borderColor: '#f5e13b',
					borderWidth: 2.5,
					pointRadius: 0,
					tension: 0.4,
					cubicInterpolationMode: 'monotone',
					order: 2
				}
			]
		},
		options: {
			responsive: false,
			animation: false,
			devicePixelRatio: 1,
			events: [],
			layout: { padding: { left: 15, right: 24, top: 4, bottom: 1 } },
			plugins: { legend: { display: false }, tooltip: { enabled: false } },
			scales: {
				x: {
					type: 'linear',
					min: xMin,
					max: xMax,
					afterBuildTicks: s => { s.ticks = tickIdx.map(v => ({ value: v })); },
					ticks: {
						autoSkip: false,
						maxRotation: 0,
						minRotation: 0,
						padding: 18,
						color: textColor,
						callback: v => tickLabels[tickIdx.indexOf(v)],
						font: ctx => ({ size: 26, weight: (ctx.tick && ctx.tick.value === 186) ? 'bold' : 'normal' })
					},
					grid: { color: gridColor, lineWidth: 2, drawTicks: false },
					border: { display: false },
					afterFit: s => { s.height = 68; sinRelleno(s); }
				},
				y: {
					position: 'right',
					min: 3.95,
					max: 91.2,
					afterBuildTicks: s => { s.ticks = rsiTicks.map(v => ({ value: v })); },
					ticks: { callback: v => v.toFixed(2), font: { size: 27 }, color: textColor, padding: 24 },
					grid: { color: '#e0e3eb', lineWidth: 2, drawTicks: false },
					border: { display: false },
					afterFit: s => { s.width = 160; sinRelleno(s); }
				}
			}
		},
		plugins: [bandaRsi]
	});

});
</script>
</body>
</html>
